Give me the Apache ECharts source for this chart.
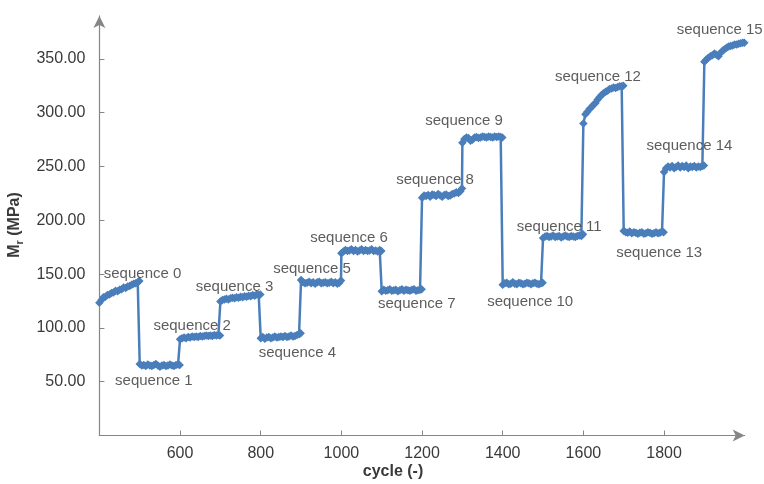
<!DOCTYPE html>
<html>
<head>
<meta charset="utf-8">
<script src="https://cdn.jsdelivr.net/npm/echarts@6/dist/echarts.min.js"></script>
<style>
  html, body { margin: 0; padding: 0; background: #ffffff; }
  #chart { width: 764px; height: 484px; }
</style>
</head>
<body>
<div id="chart"></div>
<script>
// Resilient modulus Mr (MPa) recorded over the loading cycles, one block of 100 cycles per sequence.
const sequenceStart = [400, 500, 600, 700, 800, 900, 1000, 1100, 1200, 1300, 1400, 1500, 1600, 1700, 1800, 1900];
const cycleOffsets = [0, 5, 10, 15, 20, 25, 30, 35, 40, 45, 50, 55, 60, 65, 70, 75, 80, 85, 90, 95, 99];

const seq0 = [123.5, 126.0, 128.5, 129.0, 130.5, 131.0, 132.5, 133.0, 134.5, 134.0, 135.5, 136.0, 137.5, 137.0, 138.5, 139.0, 140.0, 141.0, 141.5, 142.5, 143.5];
const seq1 = [66.5, 65.0, 65.5, 64.5, 66.0, 65.0, 64.5, 65.5, 66.5, 65.0, 64.0, 65.0, 65.5, 64.5, 65.0, 66.0, 65.0, 64.5, 65.5, 66.0, 65.5];
const seq2 = [89.5, 90.5, 91.0, 90.5, 91.5, 91.0, 92.0, 91.5, 92.0, 91.5, 92.5, 92.0, 92.5, 93.0, 92.5, 93.0, 92.5, 93.5, 93.0, 93.5, 93.0];
const seq3 = [124.5, 126.0, 126.5, 127.0, 126.5, 127.5, 128.0, 127.5, 128.5, 128.0, 129.0, 128.5, 129.5, 129.0, 130.0, 129.5, 130.5, 130.0, 131.0, 130.5, 131.0];
const seq4 = [90.5, 91.5, 90.0, 91.0, 91.5, 90.5, 91.0, 92.0, 91.0, 91.5, 92.0, 91.5, 92.5, 91.5, 92.0, 93.0, 92.0, 92.5, 93.5, 94.0, 95.0];
const seq5 = [144.5, 142.5, 141.5, 142.0, 143.0, 141.5, 142.5, 141.0, 142.5, 143.0, 141.5, 142.0, 142.5, 141.5, 142.0, 143.0, 141.5, 142.5, 141.0, 142.0, 144.0];
const seq6 = [169.5, 171.0, 172.5, 171.5, 172.0, 173.0, 171.5, 172.5, 171.0, 172.0, 173.0, 171.5, 172.5, 171.5, 172.0, 173.0, 171.5, 172.0, 171.0, 172.5, 171.5];
const seq7 = [134.0, 135.5, 134.5, 135.0, 136.0, 134.5, 135.0, 135.5, 134.0, 135.0, 136.0, 134.5, 135.5, 135.0, 134.5, 135.5, 136.0, 134.5, 135.0, 135.5, 136.0];
const seq8 = [221.0, 223.0, 222.5, 223.5, 222.0, 224.0, 223.5, 222.5, 224.5, 223.0, 222.0, 223.5, 224.0, 222.5, 223.0, 224.5, 225.0, 226.0, 225.5, 227.0, 229.5];
const seq9 = [272.0, 275.5, 277.0, 276.5, 274.0, 275.0, 277.0, 277.5, 276.5, 277.0, 278.0, 277.5, 277.0, 278.0, 277.5, 277.0, 278.0, 277.5, 278.0, 277.5, 277.0];
const seq10 = [140.0, 141.5, 142.0, 140.5, 141.0, 142.5, 141.0, 140.5, 142.0, 141.5, 140.5, 141.0, 142.0, 141.5, 140.5, 141.5, 142.0, 141.0, 140.5, 141.5, 142.0];
const seq11 = [183.5, 185.0, 185.5, 184.5, 185.0, 186.0, 184.5, 185.0, 185.5, 184.0, 185.0, 186.0, 185.0, 184.5, 185.5, 185.0, 184.5, 185.5, 186.0, 185.5, 187.0];
const seq12 = [290.0, 298.5, 301.0, 303.5, 305.0, 307.5, 309.0, 312.0, 314.5, 316.5, 318.0, 319.5, 320.5, 322.0, 322.5, 323.5, 323.0, 324.0, 324.5, 324.5, 325.0];
const seq13 = [190.0, 189.0, 188.5, 189.5, 188.0, 189.0, 188.5, 187.5, 188.5, 189.0, 187.5, 188.0, 189.0, 188.5, 187.5, 188.0, 189.0, 188.0, 188.5, 189.5, 189.0];
const seq14 = [245.0, 248.5, 250.0, 249.0, 250.5, 248.5, 249.5, 251.0, 249.0, 250.5, 249.5, 251.0, 248.5, 250.0, 249.5, 250.5, 249.0, 250.0, 249.5, 250.5, 251.0];
const seq15 = [347.5, 349.5, 351.0, 352.5, 353.5, 355.0, 354.0, 352.5, 355.5, 357.5, 359.0, 360.5, 361.5, 362.0, 362.5, 363.5, 363.5, 364.0, 364.5, 365.0, 365.0];

const sequenceValues = [seq0, seq1, seq2, seq3, seq4, seq5, seq6, seq7, seq8, seq9, seq10, seq11, seq12, seq13, seq14, seq15];
const sequenceNames = ['sequence 0', 'sequence 1', 'sequence 2', 'sequence 3', 'sequence 4', 'sequence 5', 'sequence 6', 'sequence 7',
                       'sequence 8', 'sequence 9', 'sequence 10', 'sequence 11', 'sequence 12', 'sequence 13', 'sequence 14', 'sequence 15'];

const yTicks = [50, 100, 150, 200, 250, 300, 350];
const xTicks = [600, 800, 1000, 1200, 1400, 1600, 1800];

// Where each sequence caption sits, in (cycle, MPa) units
const captionAnchor = [
  [507, 150], [535, 51], [630, 102], [735, 138], [891, 77], [927, 155], [1019, 184], [1187, 122],
  [1232, 238], [1304, 292], [1468, 124], [1540, 194], [1636, 333], [1788, 170], [1863, 269], [1938, 377]
];

const lineData = [];
sequenceValues.forEach((vals, i) => {
  vals.forEach((v, k) => lineData.push([sequenceStart[i] + cycleOffsets[k], v]));
});

const captionData = sequenceNames.map((name, i) => ({ name: name, value: captionAnchor[i] }));

const axisGray = '#868686';
const textGray = '#3a3a3a';
const font = 'Liberation Sans, Arial, sans-serif';

const chart = echarts.init(document.getElementById('chart'), null, { renderer: 'canvas' });
chart.setOption({
  animation: false,
  backgroundColor: '#ffffff',
  grid: { left: 99.4, right: 19.3, top: 15.9, bottom: 48.5, containLabel: false },
  xAxis: {
    type: 'value', min: 400, max: 2000, interval: 200,
    axisLine: { show: true, lineStyle: { color: axisGray, width: 1.2 }, symbol: ['none', 'arrow'], symbolSize: [9, 12] },
    axisTick: { show: true, inside: true, length: 5, lineStyle: { color: axisGray }, customValues: xTicks },
    axisLabel: { color: textGray, fontSize: 16, fontFamily: font, margin: 10, customValues: xTicks,
                 formatter: v => String(v) },
    splitLine: { show: false }
  },
  yAxis: {
    type: 'value', min: 0, max: 390, interval: 50,
    axisLine: { show: true, lineStyle: { color: axisGray, width: 1.2 }, symbol: ['none', 'arrow'], symbolSize: [9, 12] },
    axisTick: { show: true, inside: true, length: 5, lineStyle: { color: axisGray }, customValues: yTicks },
    axisLabel: { color: textGray, fontSize: 16, fontFamily: font, margin: 14, customValues: yTicks,
                 formatter: v => v.toFixed(2) },
    splitLine: { show: false }
  },
  graphic: [
    {
      type: 'text', x: 393, y: 472, silent: true,
      style: { text: 'cycle (-)', font: 'bold 16px ' + font, fill: textGray, align: 'center', verticalAlign: 'middle' }
    },
    {
      type: 'text', x: 15, y: 225, rotation: Math.PI / 2, silent: true,
      style: {
        text: '{m|M}{s|r}{m| (MPa)}', align: 'center', verticalAlign: 'middle',
        rich: {
          m: { font: 'bold 16px ' + font, fill: textGray, lineHeight: 20, verticalAlign: 'middle' },
          s: { font: 'bold 11px ' + font, fill: textGray, lineHeight: 20, verticalAlign: 'bottom' }
        }
      }
    }
  ],
  series: [
    {
      type: 'line',
      data: lineData,
      showAllSymbol: true,
      symbol: 'diamond',
      symbolSize: 8.5,
      itemStyle: { color: '#4a7ebb' },
      lineStyle: { color: '#4a7ebb', width: 2.5 },
      z: 2
    },
    {
      type: 'scatter',
      data: captionData,
      symbolSize: 0,
      silent: true,
      label: {
        show: true, position: 'inside', formatter: '{b}',
        color: '#333333', fontSize: 15, fontFamily: font
      },
      z: 3
    }
  ]
});
</script>
</body>
</html>
